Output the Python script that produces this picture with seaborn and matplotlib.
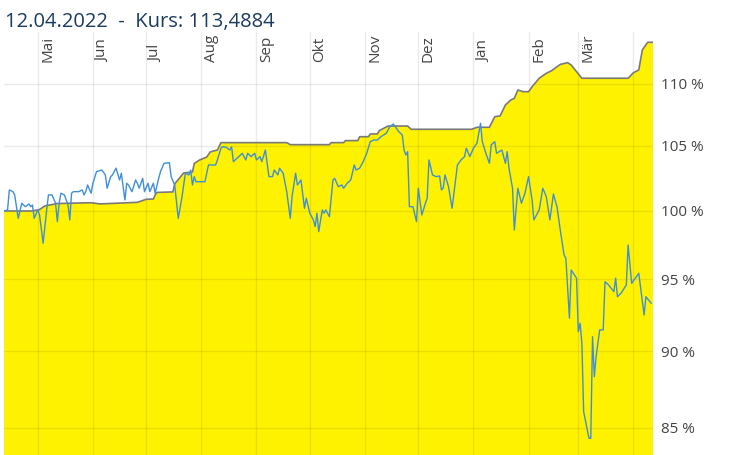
import numpy as np
import pandas as pd
import matplotlib
matplotlib.use("Agg")
import matplotlib.pyplot as plt
import matplotlib.dates as mdates
from matplotlib.ticker import NullLocator, FixedLocator, FixedFormatter
import seaborn as sns

# ---------------- data ----------------
start_date = "2021-04-12"
end_date = "2022-04-12"
title_text = "12.04.2022  -  Kurs: 113,4884"

# fund price (Kurs) in % of start, day offsets from start_date
kurs_days = [0, 16, 20, 23, 30, 49, 54, 75, 80, 84, 85, 86, 95, 96, 101, 106, 107, 110, 114, 116,
             120, 122, 159, 161, 183, 184, 191, 192, 199, 200, 205, 206, 210, 211, 216, 227, 229, 263, 266, 273,
             276, 279, 282, 285, 287, 289, 292, 295, 297, 301, 305, 308, 311, 313, 317, 319, 322, 325, 351, 354,
             357, 359, 362, 365]
kurs_values = [100.00, 100.00, 100.11, 100.38, 100.56, 100.62, 100.53, 100.65, 100.88, 100.90,
               101.21, 101.40, 101.44, 102.05, 102.89, 102.97, 103.63, 103.90, 104.13, 104.53,
               104.68, 105.26, 105.26, 105.10, 105.10, 105.26, 105.26, 105.42, 105.42, 105.73,
               105.73, 105.95, 105.95, 106.21, 106.58, 106.58, 106.32, 106.32, 106.48, 106.48,
               107.33, 107.39, 108.28, 108.68, 108.82, 109.50, 109.36, 109.36, 109.77, 110.47,
               110.88, 111.10, 111.43, 111.63, 111.77, 111.57, 111.02, 110.47, 110.47, 110.93,
               111.16, 112.84, 113.49, 113.49]

# comparison series (blue) in %
bench_days = [0, 2, 3, 5, 6, 8, 10, 11, 12, 14, 15, 16, 17, 19, 20, 22, 24, 25, 27, 29,
              30, 31, 32, 34, 36, 37, 38, 39, 42, 44, 45, 46, 47, 49, 50, 52, 55, 57, 58, 60,
              61, 63, 65, 66, 68, 69, 70, 72, 74, 75, 76, 78, 79, 81, 82, 84, 85, 87, 88, 90,
              93, 94, 96, 98, 100, 102, 104, 105, 106, 107, 108, 110, 113, 115, 117, 119, 120, 122, 123, 125,
              127, 128, 129, 131, 134, 136, 137, 139, 141, 142, 144, 145, 147, 149, 151, 152, 154, 155, 157, 159,
              161, 162, 164, 165, 167, 169, 170, 172, 174, 175, 176, 177, 179, 180, 181, 183, 185, 186, 188, 190,
              191, 193, 195, 197, 198, 200, 202, 204, 206, 208, 210, 212, 215, 217, 219, 220, 222, 224, 225, 226,
              227, 228, 230, 232, 233, 235, 237, 238, 239, 241, 243, 245, 246, 247, 248, 250, 252, 255, 257, 259,
              260, 262, 264, 266, 268, 269, 271, 273, 274, 276, 277, 280, 282, 283, 284, 286, 287, 289, 291, 293,
              295, 297, 298, 301, 303, 305, 307, 309, 311, 313, 315, 316, 318, 319, 322, 323, 324, 325, 326, 329,
              330, 331, 332, 333, 335, 337, 338, 340, 343, 344, 345, 347, 350, 351, 353, 357, 360, 361, 364]
bench_values = [100.00, 100.08, 101.59, 101.46, 101.21, 99.45, 100.58, 100.45, 100.32, 100.53,
                100.32, 100.45, 99.45, 100.08, 99.70, 97.61, 100.08, 101.21, 101.21, 100.58,
                99.20, 100.58, 101.34, 101.21, 100.45, 99.33, 101.34, 101.46, 101.46, 101.59,
                101.21, 101.46, 101.97, 101.34, 102.10, 102.99, 103.12, 102.74, 101.72, 102.61,
                102.74, 103.26, 102.35, 102.87, 100.83, 102.10, 101.97, 101.46, 102.35, 102.10,
                101.72, 102.48, 101.46, 102.10, 101.46, 102.10, 101.34, 102.48, 102.99, 103.64,
                103.69, 102.61, 101.97, 99.45, 100.96, 102.87, 102.74, 103.12, 101.97, 102.61,
                102.22, 102.22, 102.22, 103.51, 103.51, 103.51, 103.90, 104.82, 104.94, 104.89,
                104.68, 104.94, 103.77, 104.03, 104.42, 103.90, 104.42, 104.16, 104.42, 103.90,
                104.16, 103.77, 104.68, 102.61, 102.61, 103.12, 102.74, 103.26, 102.87, 101.46,
                99.45, 101.08, 102.87, 101.97, 102.35, 100.20, 100.96, 99.83, 99.33, 98.83,
                99.83, 98.46, 100.08, 99.83, 100.08, 99.57, 102.35, 102.48, 101.84, 101.97,
                101.72, 102.10, 102.35, 103.51, 103.12, 103.26, 103.77, 104.42, 105.34, 105.47,
                105.47, 105.73, 106.00, 106.53, 106.74, 106.53, 106.13, 105.87, 104.68, 104.29,
                104.55, 100.32, 100.32, 99.20, 101.72, 99.70, 100.58, 100.96, 103.90, 102.74,
                102.61, 102.66, 101.59, 101.72, 102.74, 101.84, 100.20, 103.51, 103.90, 104.16,
                104.82, 104.16, 104.82, 105.21, 106.80, 105.34, 104.42, 103.64, 105.08, 105.34,
                104.42, 104.68, 103.64, 104.55, 103.26, 101.72, 98.58, 101.72, 100.58, 101.34,
                102.61, 100.83, 99.33, 100.08, 101.72, 101.08, 99.33, 101.28, 100.32, 98.44,
                96.75, 96.51, 92.27, 95.67, 95.08, 91.34, 91.92, 90.55, 86.02, 84.32,
                84.32, 91.00, 88.31, 89.65, 91.46, 91.46, 94.83, 94.60, 94.13, 95.08,
                93.77, 94.01, 94.60, 97.48, 94.72, 95.43, 92.49, 93.77, 93.31]

month_starts = ["2021-05-01", "2021-06-01", "2021-07-01", "2021-08-01", "2021-09-01", "2021-10-01",
                "2021-11-01", "2021-12-01", "2022-01-01", "2022-02-01", "2022-03-01", "2022-04-01"]
month_labels = ["Mai", "Jun", "Jul", "Aug", "Sep", "Okt", "Nov", "Dez", "Jan", "Feb", "Mär"]

y_ticks = [85, 90, 95, 100, 105, 110]
y_tick_labels = ["85 %", "90 %", "95 %", "100 %", "105 %", "110 %"]
y_limits = (83.27, 114.37)

# ---------------- style ----------------
sns.set_style("white")
plt.rcParams["font.family"] = ["Open Sans", "DejaVu Sans"]

W, H = 736, 455
fig = plt.figure(figsize=(W / 100, H / 100), dpi=100)
ax = fig.add_axes([4 / W, 0, 649 / W, 423 / H])

t0 = pd.Timestamp(start_date)
kurs = pd.DataFrame({"Datum": t0 + pd.to_timedelta(kurs_days, unit="D"), "Wert": kurs_values})
bench = pd.DataFrame({"Datum": t0 + pd.to_timedelta(bench_days, unit="D"), "Wert": bench_values})

ax.set_yscale("log")
ax.fill_between(kurs["Datum"], kurs["Wert"], 50, color="#fff200", lw=0, zorder=1)
sns.lineplot(data=kurs, x="Datum", y="Wert", ax=ax, color="#7a7a7a", lw=1.2,
             estimator=None, sort=False, zorder=4)
sns.lineplot(data=bench, x="Datum", y="Wert", ax=ax, color="#3f8fd8", lw=1.0,
             estimator=None, sort=False, zorder=5)

ax.set_xlim(t0, pd.Timestamp(end_date))
ax.set_ylim(*y_limits)

ax.yaxis.set_major_locator(FixedLocator(y_ticks))
ax.yaxis.set_major_formatter(FixedFormatter(y_tick_labels))
ax.yaxis.set_minor_locator(NullLocator())
ax.yaxis.tick_right()
ax.xaxis.set_major_locator(FixedLocator(mdates.date2num(pd.to_datetime(month_starts))))
ax.xaxis.set_minor_locator(NullLocator())

ax.tick_params(axis="x", length=0, labelbottom=False)
ax.tick_params(axis="y", length=0, pad=6, labelsize=11, labelcolor="#444444")
ax.set_xlabel("")
ax.set_ylabel("")
ax.set_axisbelow(False)
ax.grid(True, color="black", alpha=0.08, lw=1)
for s in ax.spines.values():
    s.set_visible(False)

for d, lab in zip(month_starts, month_labels):
    ax.annotate(lab, xy=(mdates.date2num(pd.Timestamp(d)), (H - 62) / 423),
                xycoords=("data", "axes fraction"), xytext=(10, 0), textcoords="offset pixels",
                rotation=90, ha="center", va="bottom", fontsize=11, color="#444444", zorder=6)

fig.text(5 / W, 1 - 27 / H, title_text, fontsize=14.5, color="#1b3c5e", ha="left", va="baseline")

fig.savefig("out.png", dpi=100, facecolor="white")
